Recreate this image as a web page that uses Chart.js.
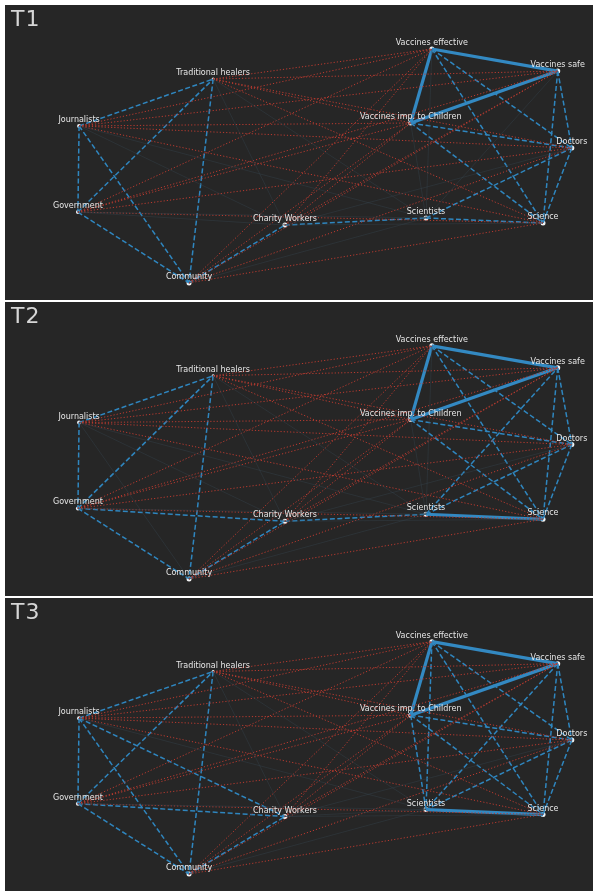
<!DOCTYPE html>
<html>
<head>
<meta charset="utf-8">
<script src="https://cdn.jsdelivr.net/npm/chart.js@4.4.0/dist/chart.umd.min.js"></script>
<style>
  body { margin: 0; background: #ffffff; width: 593px; height: 891px; overflow: hidden; }
  .panel { position: absolute; left: 5px; width: 588px; background: #262626; }
  .panel canvas { position: absolute; left: 0; top: 0; }
  .panelTitle { position: absolute; left: 6px; top: 1px; font-family: 'DejaVu Sans', sans-serif; font-size: 22px; color: #d6d6d6; letter-spacing: 1px; }
</style>
</head>
<body>

<div class="panel" id="panel0" style="top: 5px; height: 295px;"></div>
<div class="panel" id="panel1" style="top: 302px; height: 294px;"></div>
<div class="panel" id="panel2" style="top: 598px; height: 293px;"></div>

<script>
const panelNames = ['T1', 'T2', 'T3'];

const nodeKeys = ['TH', 'J', 'G', 'C', 'CW', 'VE', 'VS', 'VI', 'D', 'Sci', 'Sc'];
const nodeNames = ['Traditional healers', 'Journalists', 'Government', 'Community', 'Charity Workers',
    'Vaccines effective', 'Vaccines safe', 'Vaccines imp. to Children', 'Doctors', 'Scientists', 'Science'];
// layout positions (0..1)
const nodeX = [0.354, 0.126, 0.124, 0.313, 0.476, 0.726, 0.940, 0.690, 0.964, 0.716, 0.915];
const nodeY = [0.749, 0.590, 0.298, 0.058, 0.254, 0.851, 0.776, 0.600, 0.515, 0.278, 0.261];
const nodeRadius = [1.5, 2, 2, 2.5, 2.5, 2.5, 2.5, 2.5, 2.5, 2.5, 2.5];

// negative ties (same in all waves)
const negativeEdges = [
    'J-VE', 'J-VS', 'J-VI', 'J-D', 'J-Sc',
    'G-VE', 'G-VS', 'G-VI', 'G-D', 'G-Sc',
    'TH-VE', 'TH-VS', 'TH-VI', 'TH-D', 'TH-Sc',
    'C-VE', 'C-VS', 'C-VI', 'C-D', 'C-Sc',
    'CW-VE', 'CW-VS', 'CW-VI'
];

const positiveEdgesT1 = ['J-TH', 'J-G', 'J-C', 'G-TH', 'G-C', 'TH-C', 'C-CW', 'CW-Sci', 'Sci-Sc',
    'VE-Sc', 'VE-D', 'VI-D', 'VI-Sc', 'VS-Sc', 'VS-D', 'D-Sc', 'Sci-D'];
const strongEdgesT1 = ['VE-VS', 'VE-VI', 'VI-VS'];

const positiveEdgesT2 = ['J-TH', 'J-G', 'G-TH', 'G-C', 'G-CW', 'TH-C', 'C-CW', 'CW-Sci',
    'VE-Sc', 'VE-D', 'VI-D', 'VI-Sc', 'VS-Sc', 'VS-D', 'D-Sc', 'Sci-D', 'Sci-VS'];
const strongEdgesT2 = ['VE-VS', 'VE-VI', 'VI-VS', 'Sci-Sc'];

const positiveEdgesT3 = ['J-TH', 'J-G', 'J-C', 'J-CW', 'G-TH', 'G-C', 'G-CW', 'TH-C', 'C-CW',
    'VE-Sci', 'VI-Sci', 'VE-Sc', 'VE-D', 'VI-D', 'VI-Sc', 'VS-Sci', 'VS-Sc', 'VS-D', 'D-Sc', 'D-Sci'];
const strongEdgesT3 = ['VE-VS', 'VE-VI', 'VI-VS', 'Sci-Sc'];

const positiveEdges = [positiveEdgesT1, positiveEdgesT2, positiveEdgesT3];
const strongEdges = [strongEdgesT1, strongEdgesT2, strongEdgesT3];


function edgePoints(edge) {
    const [a, b] = edge.split('-').map(k => nodeKeys.indexOf(k));
    return [{ x: nodeX[a], y: nodeY[a] }, { x: nodeX[b], y: nodeY[b] }];
}

function pairKey(edge) {
    return edge.split('-').sort().join('-');
}

function edgeDataset(edge, color, width, dash) {
    return {
        data: edgePoints(edge),
        showLine: true,
        borderColor: color,
        borderWidth: width,
        borderDash: dash,
        pointRadius: 0,
        fill: false
    };
}

const nodeLabels = {
    id: 'nodeLabels',
    afterDatasetsDraw(chart) {
        const ctx = chart.ctx;
        const meta = chart.getDatasetMeta(chart.data.datasets.length - 1);
        ctx.save();
        ctx.font = '8px "DejaVu Sans", sans-serif';
        ctx.fillStyle = '#e6e6e6';
        ctx.textAlign = 'center';
        ctx.textBaseline = 'bottom';
        meta.data.forEach((pt, i) => {
            ctx.fillText(nodeNames[i], pt.x, pt.y - 2);
        });
        ctx.restore();
    }
};


function drawPanel(index) {
    const panel = document.getElementById('panel' + index);
    const w = panel.offsetWidth;
    const h = panel.offsetHeight;

    const canvas = document.createElement('canvas');
    canvas.width = w;
    canvas.height = h;
    canvas.style.width = w + 'px';
    canvas.style.height = h + 'px';
    panel.appendChild(canvas);

    const title = document.createElement('div');
    title.className = 'panelTitle';
    title.textContent = panelNames[index];
    panel.appendChild(title);

    const used = new Set();
    negativeEdges.concat(positiveEdges[index], strongEdges[index]).forEach(e => used.add(pairKey(e)));

    const datasets = [];
    // weak ties
    for (let a = 0; a < nodeKeys.length; a++) {
        for (let b = a + 1; b < nodeKeys.length; b++) {
            const e = nodeKeys[a] + '-' + nodeKeys[b];
            if (!used.has(pairKey(e))) {
                datasets.push(edgeDataset(e, 'rgba(52, 66, 76, 0.55)', 0.8, []));
            }
        }
    }
    negativeEdges.forEach(e => datasets.push(edgeDataset(e, '#bb3b30', 1, [1.2, 2])));
    positiveEdges[index].forEach(e => datasets.push(edgeDataset(e, '#2f86bf', 1.5, [5, 2.5])));
    strongEdges[index].forEach(e => datasets.push(edgeDataset(e, '#3389c2', 3.2, [])));

    datasets.push({
        data: nodeX.map((x, i) => ({ x: x, y: nodeY[i] })),
        showLine: false,
        pointRadius: nodeRadius,
        pointBackgroundColor: '#f2f2f2',
        pointBorderWidth: 0
    });

    new Chart(canvas.getContext('2d'), {
        type: 'scatter',
        data: { datasets: datasets },
        options: {
            responsive: false,
            animation: false,
            devicePixelRatio: 1,
            layout: { padding: 0, autoPadding: false },
            plugins: {
                legend: { display: false },
                tooltip: { enabled: false },
                title: { display: false }
            },
            scales: {
                x: { type: 'linear', min: 0, max: 1, display: false },
                y: { type: 'linear', min: 0, max: 1, display: false }
            }
        },
        plugins: [nodeLabels]
    });
}

panelNames.forEach((name, i) => drawPanel(i));
</script>
</body>
</html>
